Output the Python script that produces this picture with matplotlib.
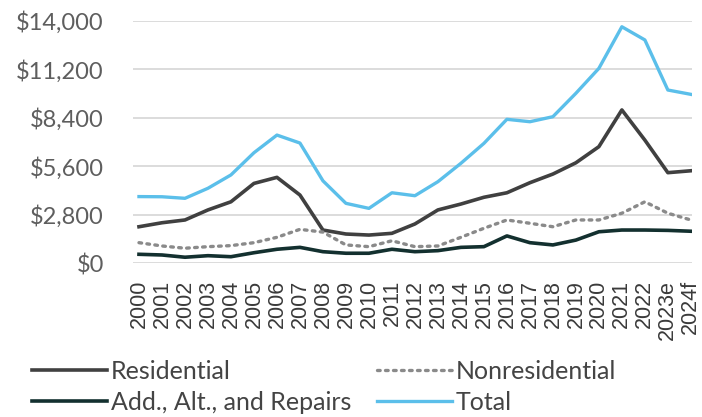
import matplotlib.pyplot as plt
from matplotlib.ticker import FuncFormatter

# Valeurs (millions $)
years = ["2000", "2001", "2002", "2003", "2004", "2005", "2006", "2007", "2008",
         "2009", "2010", "2011", "2012", "2013", "2014", "2015", "2016", "2017",
         "2018", "2019", "2020", "2021", "2022", "2023e", "2024f"]

residential = [2110, 2340, 2500, 3080, 3550, 4610, 4960, 3940, 1920, 1690, 1630, 1730, 2270,
               3080, 3420, 3810, 4070, 4650, 5150, 5800, 6730, 8850, 7110, 5230, 5340]
nonresidential = [1190, 1000, 870, 960, 1020, 1190, 1500, 1960, 1800, 1060, 960, 1300, 960,
                  1000, 1500, 2020, 2500, 2310, 2110, 2500, 2500, 2890, 3550, 2890, 2500]
repairs = [520, 480, 350, 440, 380, 610, 810, 920, 670, 580, 580, 810, 670,
           730, 920, 960, 1580, 1190, 1060, 1340, 1820, 1920, 1920, 1900, 1850]
total = [3850, 3840, 3750, 4330, 5100, 6380, 7400, 6940, 4760, 3460, 3170, 4070, 3900,
         4710, 5770, 6920, 8310, 8170, 8460, 9810, 11250, 13650, 12890, 10000, 9750]

yticks = [0, 2800, 5600, 8400, 11200, 14000]

fig = plt.figure(figsize=(7.02, 4.17), dpi=100)
ax = fig.add_axes([133 / 702, 1 - 263.3 / 417, (692 - 133) / 702, (263.3 - 20.7) / 417])

x = list(range(len(years)))
l_res, = ax.plot(x, residential, color="#404040", lw=2.6, label="Residential", zorder=3)
l_non, = ax.plot(x, nonresidential, color="#8a8a8a", lw=2.4, ls=(0, (0.8, 1.6)),
                 dash_capstyle="round", label="Nonresidential", zorder=3)
l_rep, = ax.plot(x, repairs, color="#13302f", lw=2.6, label="Add., Alt., and Repairs", zorder=3)
l_tot, = ax.plot(x, total, color="#5bbfea", lw=2.4, label="Total", zorder=3)

ax.set_xlim(-0.26, 24.05)
ax.set_ylim(0, 14000)
ax.set_yticks(yticks)
ax.yaxis.set_major_formatter(FuncFormatter(lambda v, p: f"${v:,.0f}"))
ax.grid(axis="y", color="#dcdcdc", lw=1.4)
ax.set_axisbelow(True)
for s in ax.spines.values():
    s.set_visible(False)

ax.set_xticks(x)
ax.set_xticklabels(years, rotation=90, fontsize=15.5, family=["Liberation Sans", "DejaVu Sans"],
                   color="#3a3a3a")
ax.tick_params(axis="x", length=0, pad=12)
ax.tick_params(axis="y", length=0, pad=21, labelsize=17, labelcolor="#5e5e5e")
for t in ax.get_yticklabels():
    t.set_family(["Lato", "DejaVu Sans"])

leg = fig.legend(handles=[l_res, l_rep, l_non, l_tot], ncol=2, loc="upper left",
                 bbox_to_anchor=(32 / 702, 1 - 360 / 417), frameon=False,
                 prop={"family": ["Lato", "DejaVu Sans"], "size": 18},
                 handlelength=3.0, handletextpad=0.15, columnspacing=1.05,
                 labelspacing=0.3, borderpad=0, borderaxespad=0, labelcolor="#444444")

fig.savefig("out.png", dpi=100)
